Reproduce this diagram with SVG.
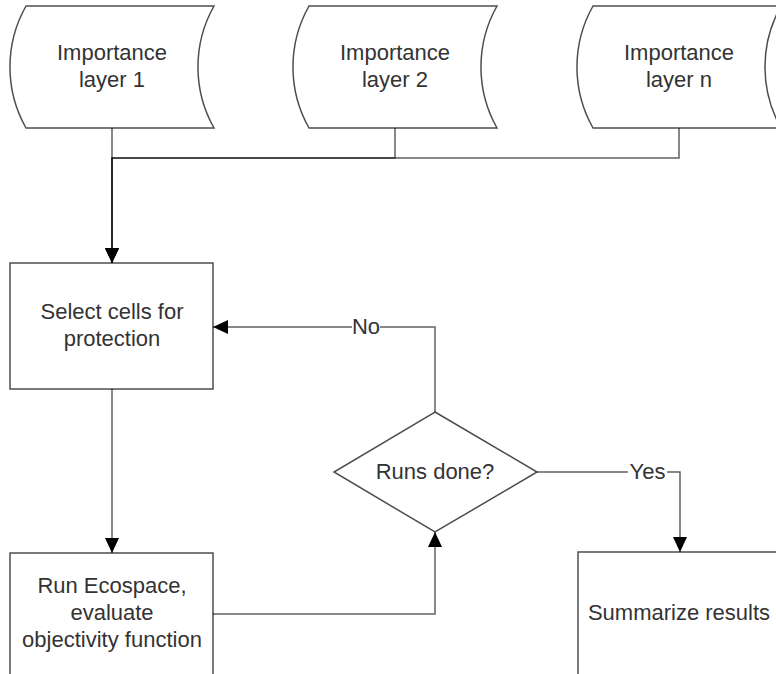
<svg xmlns="http://www.w3.org/2000/svg" width="776" height="674" viewBox="0 0 776 674">
  <style>
    .shape { fill: #ffffff; stroke: #4d4d4d; stroke-width: 1.5; }
    .label { font-family: "Liberation Sans", Arial, sans-serif; font-size: 22px; fill: #333333; text-anchor: middle; }
    .conn { fill: none; stroke: #000000; stroke-opacity: 0.62; stroke-width: 1.5; }
    .tag-bg { fill: #ffffff; }
  </style>
  <defs>
    <marker id="arrow" viewBox="0 0 15 14" refX="15" refY="7" markerWidth="15" markerHeight="14" markerUnits="userSpaceOnUse" orient="auto">
      <path d="M0,0 L15,7 L0,14 Z" fill="#000000"/>
    </marker>
  </defs>

  <rect width="776" height="674" fill="#ffffff"/>

  <!-- stored-data input layers -->
  <g id="layer1">
    <path class="shape" d="M26,6 L214,6 A124,124 0 0 0 214,128 L26,128 A124,124 0 0 1 26,6 Z"/>
    <text class="label" x="112" y="60">Importance</text>
    <text class="label" x="112" y="87">layer 1</text>
  </g>
  <g id="layer2">
    <path class="shape" d="M309,6 L497,6 A124,124 0 0 0 497,128 L309,128 A124,124 0 0 1 309,6 Z"/>
    <text class="label" x="395" y="60">Importance</text>
    <text class="label" x="395" y="87">layer 2</text>
  </g>
  <g id="layerN">
    <path class="shape" d="M593,6 L781,6 A124,124 0 0 0 781,128 L593,128 A124,124 0 0 1 593,6 Z"/>
    <text class="label" x="679" y="60">Importance</text>
    <text class="label" x="679" y="87">layer n</text>
  </g>

  <!-- process steps -->
  <g id="select">
    <rect class="shape" x="10" y="263" width="203" height="126"/>
    <text class="label" x="112" y="319">Select cells for</text>
    <text class="label" x="112" y="346">protection</text>
  </g>
  <g id="run">
    <rect class="shape" x="10" y="553" width="203" height="126"/>
    <text class="label" x="112" y="593">Run Ecospace,</text>
    <text class="label" x="112" y="620">evaluate</text>
    <text class="label" x="112" y="647">objectivity function</text>
  </g>
  <g id="decision">
    <path class="shape" d="M435,412 L537,472 L435,532 L334,472 Z"/>
    <text class="label" x="435" y="479">Runs done?</text>
  </g>
  <g id="summarize">
    <rect class="shape" x="578" y="552" width="203" height="126"/>
    <text class="label" x="679" y="620">Summarize results</text>
  </g>

  <!-- connectors -->
  <g id="connectors">
    <path class="conn" d="M112,128 L112,263" marker-end="url(#arrow)"/>
    <path class="conn" d="M395,128 L395,158 L112,158 L112,263" marker-end="url(#arrow)"/>
    <path class="conn" d="M679,128 L679,158 L112,158 L112,263" marker-end="url(#arrow)"/>
    <path class="conn" d="M112,389 L112,553" marker-end="url(#arrow)"/>
    <path class="conn" d="M213,614 L435,614 L435,532" marker-end="url(#arrow)"/>
    <path class="conn" d="M435,412 L435,327 L213,327" marker-end="url(#arrow)"/>
    <path class="conn" d="M537,472 L680,472 L680,552" marker-end="url(#arrow)"/>
    <rect class="tag-bg" x="352" y="318" width="28" height="18"/>
    <text class="label" x="366" y="334">No</text>
    <rect class="tag-bg" x="628" y="463" width="39" height="18"/>
    <text class="label" x="647.5" y="479">Yes</text>
  </g>
</svg>
